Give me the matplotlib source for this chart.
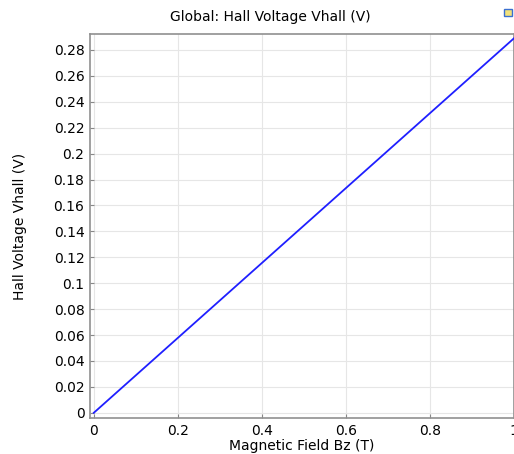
import matplotlib.pyplot as plt
import numpy as np

# data
bz = [0.0, 1.0]
vhall = [0.0, 0.289]
xticks = [0, 0.2, 0.4, 0.6, 0.8, 1]
xticklabels = ["0", "0.2", "0.4", "0.6", "0.8", "1"]
yticks = [0, 0.02, 0.04, 0.06, 0.08, 0.1, 0.12, 0.14, 0.16, 0.18, 0.2, 0.22, 0.24, 0.26, 0.28]
yticklabels = ["0", "0.02", "0.04", "0.06", "0.08", "0.1", "0.12", "0.14", "0.16",
               "0.18", "0.2", "0.22", "0.24", "0.26", "0.28"]

fig = plt.figure(figsize=(5.14, 4.54), dpi=100)
ax = fig.add_axes([90/514, 36/454, 424/514, 384/454])

ax.plot(bz, vhall, color="#1f1fff", lw=1.3, clip_on=False, zorder=3)

ax.set_xlim(-0.009, 1.0)
ax.set_ylim(-0.004, 0.2923)
ax.set_xticks(xticks)
ax.set_xticklabels(xticklabels)
ax.set_yticks(yticks)
ax.set_yticklabels(yticklabels)
ax.grid(True, color="#e6e6e6", lw=0.8)
ax.tick_params(direction="in", length=3, color="#888888", labelsize=10, pad=4)

for s in ax.spines.values():
    s.set_color("#909090")
    s.set_linewidth(1.2)

fig.text(270/514, 1 - 17/454, "Global: Hall Voltage Vhall (V)", ha="center", va="center", fontsize=10)
ax.set_xlabel("Magnetic Field Bz (T)", fontsize=10, labelpad=1)
ax.set_ylabel("Hall Voltage Vhall (V)", fontsize=10, labelpad=19)

# little icon in the corner
fig.patches.append(plt.Rectangle((504/514, 1 - 16/454), 8/514, 7/454, transform=fig.transFigure,
                                 facecolor="#f2e27a", edgecolor="#3a6fd0", lw=1))

fig.savefig("out.png", dpi=100)
